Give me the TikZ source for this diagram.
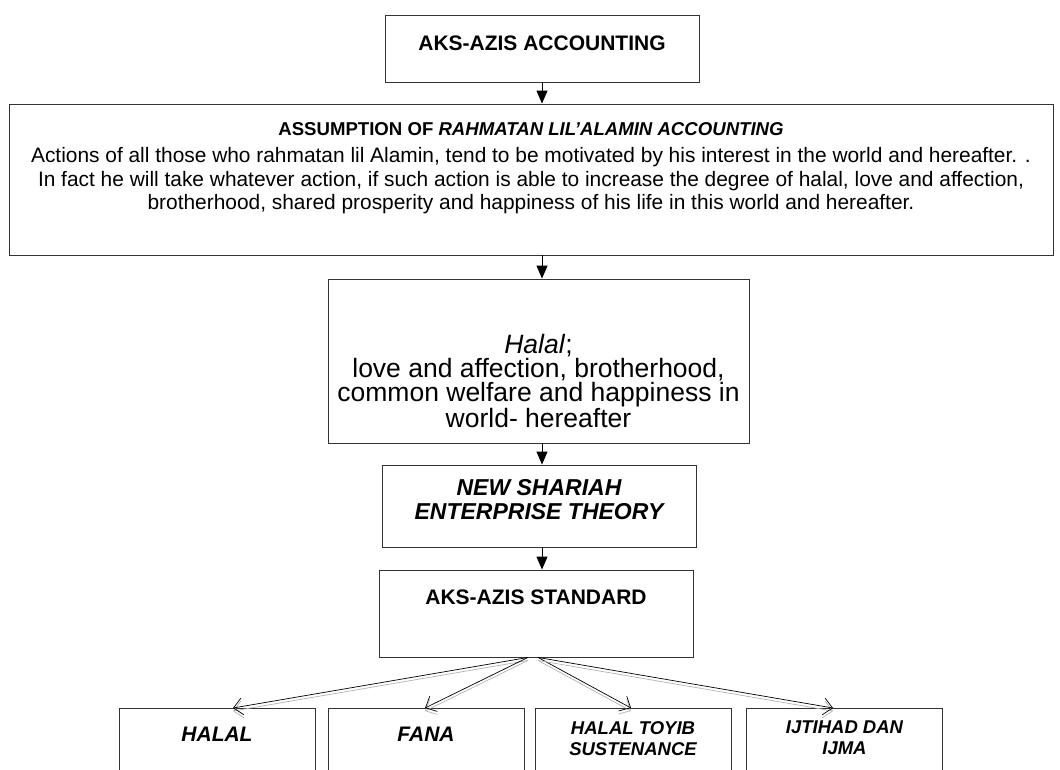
\documentclass[tikz,border=0pt]{standalone}
\usepackage{fontspec}
\setmainfont{Liberation Sans}
\usetikzlibrary{positioning, arrows.meta}

\tikzset{
  box/.style={draw=black!80, line width=0.9pt, rectangle, inner sep=0pt},
  txt/.style={inner sep=0pt, align=center},
  flow/.style={line width=1pt, -{Triangle[width=11pt,length=13pt]}},
  fan/.style={line width=0.7pt, -{Straight Barb[length=9pt,width=17pt]},
    preaction={draw=black!30, line width=0.7pt, transform canvas={yshift=-3pt}}},
}

\begin{document}
\begin{tikzpicture}[x=1pt, y=-1pt]
    \useasboundingbox (0,0) rectangle (1060,769);
    \clip (0,0) rectangle (1060,769);

    % boxes of the chain
    \node[box, minimum width=314pt, minimum height=67pt] (acc) at (542,48.5) {};
    \node[box, minimum width=1044pt, minimum height=151pt] (asm) at (531,179.5) {};
    \node[box, minimum width=421pt, minimum height=164pt] (hal) at (538.5,361) {};
    \node[box, minimum width=314pt, minimum height=82pt] (nset) at (539,506) {};
    \node[box, minimum width=314pt, minimum height=87pt] (std) at (536,613.5) {};

    % the four pillars
    \foreach \name/\x in {pa/217, pb/426, pc/633, pd/844.5}
        \node[box, minimum width=196pt, minimum height=130pt, anchor=north] (\name) at (\x,708) {};

    % texts
    \node[txt, anchor=base, font=\fontsize{21}{25}\selectfont\bfseries] (acctxt)
        at ([yshift=-36pt]acc.north) {AKS-AZIS ACCOUNTING};
    \node[txt, anchor=base, font=\fontsize{18.6}{22}\selectfont\bfseries] (asmtitle)
        at ([yshift=-32pt]asm.north) {ASSUMPTION OF \textit{RAHMATAN LIL'ALAMIN ACCOUNTING}};
    \node[txt, below=12pt of asmtitle.base, font=\fontsize{20.9}{23.5}\selectfont] (asmtxt)
        {Actions of all those who rahmatan lil Alamin, tend to be motivated by his interest in the world and hereafter. .\\
         In fact he will take whatever action, if such action is able to increase the degree of halal, love and affection,\\
         brotherhood, shared prosperity and happiness of his life in this world and hereafter.};
    \node[txt, font=\fontsize{26.5}{24}\selectfont] (haltxt) at ([yshift=-20pt]hal.center)
        {\textit{Halal};\\ love and affection, brotherhood,\\
         common welfare and happiness in\\ world- hereafter};
    \node[txt, font=\fontsize{23}{24}\selectfont\bfseries\itshape] (nsettxt)
        at ([yshift=6pt]nset.center) {NEW SHARIAH\\ ENTERPRISE THEORY};
    \node[txt, anchor=base, font=\fontsize{21}{25}\selectfont\bfseries] (stdtxt)
        at ([yshift=-35pt]std.north) {AKS-AZIS STANDARD};
    \node[txt, anchor=base, font=\fontsize{21}{25}\selectfont\bfseries\itshape] (patxt)
        at ([yshift=-33pt]pa.north) {HALAL};
    \node[txt, anchor=base, font=\fontsize{21}{25}\selectfont\bfseries\itshape] (pbtxt)
        at ([yshift=-33pt]pb.north) {FANA};
    \node[txt, below=13pt of pc.north, font=\fontsize{18.5}{21}\selectfont\bfseries\itshape] (pctxt)
        {HALAL TOYIB\\ SUSTENANCE};
    \node[txt, below=13pt of pd.north, font=\fontsize{18.5}{21}\selectfont\bfseries\itshape] (pdtxt)
        {IJTIHAD DAN\\ IJMA};

    % arrows down the chain
    \draw[flow] (acc.south) -- (acc.south |- asm.north);
    \draw[flow] (asm.south -| acc.south) -- (acc.south |- hal.north);
    \draw[flow] (hal.south -| acc.south) -- (acc.south |- nset.north);
    \draw[flow] (nset.south -| acc.south) -- (acc.south |- std.north);

    % fan out to the pillars
    \coordinate (forkl) at ([xshift=-8pt]std.south);
    \coordinate (forkr) at ([xshift=2pt]std.south);
    \draw[fan] (forkl) -- ([xshift=16pt]pa.north);
    \draw[fan] (forkl) -- ([xshift=-1pt]pb.north);
    \draw[fan] (forkr) -- ([xshift=-2pt]pc.north);
    \draw[fan] (forkr) -- ([xshift=-11.5pt]pd.north);
\end{tikzpicture}
\end{document}
